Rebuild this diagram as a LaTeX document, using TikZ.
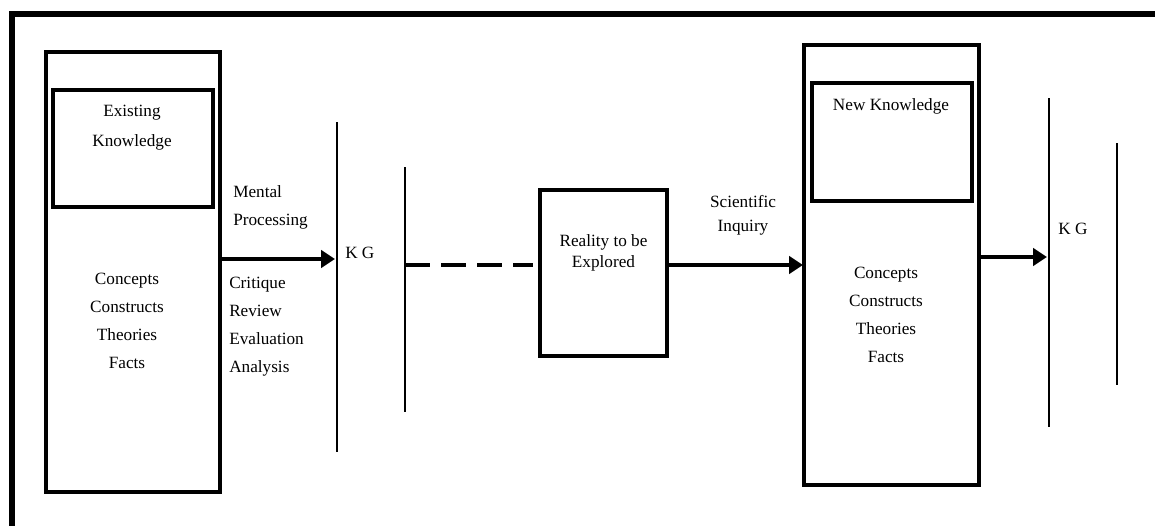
\documentclass[tikz,border=0pt]{standalone}
\usepackage{fontspec}
\setmainfont{Liberation Serif}
\usetikzlibrary{arrows.meta}
\begin{document}
\begin{tikzpicture}[x=0.75pt,y=-0.75pt,
  box/.style={draw, line width=2.3pt, minimum width=#1, inner sep=0pt},
  txt/.style={font=\fontsize{12.9}{21}\selectfont, align=center, inner sep=0pt},
  txtl/.style={font=\fontsize{12.9}{21}\selectfont, align=left, inner sep=0pt, anchor=west},
  vline/.style={line width=2.2pt},
  arr/.style={line width=2.6pt, -{Triangle[length=10.5pt,width=13pt]}},
  conn/.style={line width=2.6pt}]
\useasboundingbox (0,0) rectangle (1155,525);
% outer frame (cut off at right and bottom)
\coordinate (fTL) at (12,14);
\coordinate (fTR) at (1170,14);
\coordinate (fBL) at (12,540);
\draw[line width=4pt] (fTR) -- (fTL) -- (fBL);

% left block
\node[box=130.5pt, minimum height=330pt] (lbox) at (133,272) {};
\node[box=120pt, minimum height=87.75pt] (ekbox) at (133,148.5) {};
\node[txt, font=\fontsize{12.9}{22.5}\selectfont] (ek) at (132,128) {Existing\\Knowledge};
\node[txt] (lcon) at (127,320.5) {Concepts\\Constructs\\Theories\\Facts};

% first K G line
\coordinate (v1t) at (337,122);
\coordinate (v1b) at (337,452);
\draw[vline] (v1t) -- (v1b);
\coordinate (a1s) at (220,259);
\coordinate (a1e) at (335,259);
\draw[arr] (a1s) -- (a1e);
\node[txtl] (mp) at (233,207.5) {Mental\\Processing};
\node[txtl] (cr) at (229,326.5) {Critique\\Review\\Evaluation\\Analysis};
\node[txtl] (kg1) at (345,253) {K G};

% second line and dashed connector
\coordinate (v2t) at (405,167);
\coordinate (v2b) at (405,412);
\draw[vline] (v2t) -- (v2b);
\node[box=95.25pt, minimum height=124.5pt] (rbox) at (603.5,273) {};
\node[txt, font=\fontsize{12.9}{15.75}\selectfont] (rt) at (603.5,252.5) {Reality to be\\Explored};
\coordinate (d1) at (405,265);
\coordinate (d2) at (533,265);
\draw[conn, dash pattern=on 18.75pt off 8.25pt] (d1) -- (d2);

% scientific inquiry arrow
\node[box=131.25pt, minimum height=330pt] (nbox) at (891.5,265) {};
\node[box=120pt, minimum height=88.5pt] (nkbox) at (892,142) {};
\coordinate (a2s) at (667,265);
\coordinate (a2e) at (803,265);
\draw[arr] (a2s) -- (a2e);
\node[txt, font=\fontsize{12.9}{18}\selectfont] (si) at (743,215) {Scientific\\Inquiry};
\node[txt] (nk) at (891,106) {New Knowledge};
\node[txt] (rcon) at (886,314.5) {Concepts\\Constructs\\Theories\\Facts};

% right K G lines
\coordinate (v3t) at (1049,98);
\coordinate (v3b) at (1049,427);
\draw[vline] (v3t) -- (v3b);
\coordinate (a3s) at (979,257);
\coordinate (a3e) at (1047,257);
\draw[arr] (a3s) -- (a3e);
\node[txtl] (kg2) at (1058,229) {K G};
\coordinate (v4t) at (1117,143);
\coordinate (v4b) at (1117,385);
\draw[vline] (v4t) -- (v4b);
\end{tikzpicture}
\end{document}
